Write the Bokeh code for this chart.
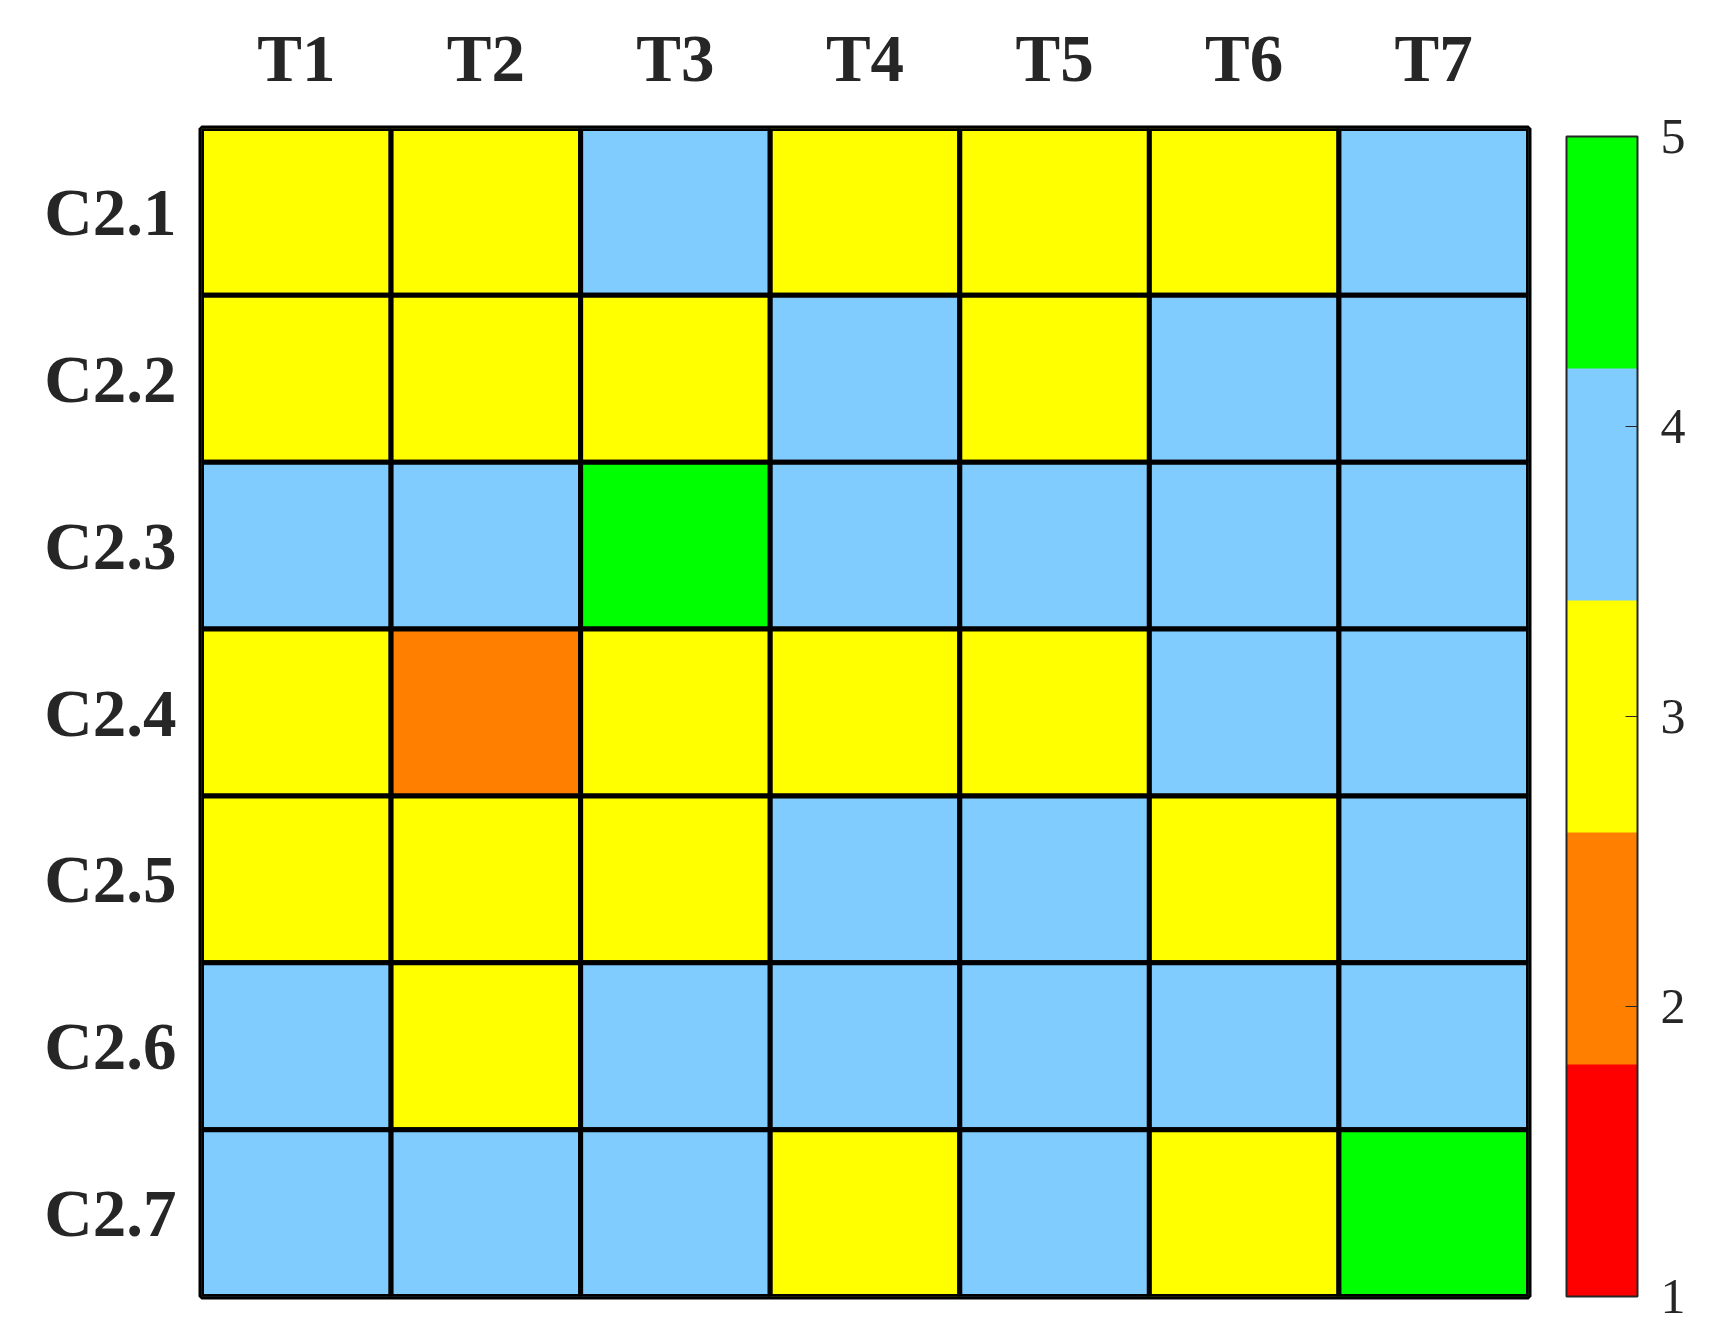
from bokeh.plotting import figure
from bokeh.models import (ColumnDataSource, LinearColorMapper, ColorBar, FixedTicker)
from bokeh.embed import file_html
from bokeh.resources import INLINE

columns = ["T1", "T2", "T3", "T4", "T5", "T6", "T7"]
rows = ["C2.1", "C2.2", "C2.3", "C2.4", "C2.5", "C2.6", "C2.7"]
values = [
    [3, 3, 4, 3, 3, 3, 4],
    [3, 3, 3, 4, 3, 4, 4],
    [4, 4, 5, 4, 4, 4, 4],
    [3, 2, 3, 3, 3, 4, 4],
    [3, 3, 3, 4, 4, 3, 4],
    [4, 3, 4, 4, 4, 4, 4],
    [4, 4, 4, 3, 4, 3, 5],
]
palette = ["#FF0000", "#FF8000", "#FFFF00", "#80CCFF", "#00FF00"]
cbar_ticks = [1, 2, 3, 4, 5]

xs, ys, vs = [], [], []
for r, row in zip(rows, values):
    for c, v in zip(columns, row):
        xs.append(c)
        ys.append(r)
        vs.append(v)
src = ColumnDataSource(dict(x=xs, y=ys, v=vs))

mapper = LinearColorMapper(palette=palette, low=1, high=5)

FONT = "Liberation Serif"
TXT = "#262626"

p = figure(width=1690, height=1334, x_range=columns, y_range=list(reversed(rows)),
           x_axis_location="above", output_backend="svg", toolbar_location=None,
           min_border_left=201, min_border_top=128, min_border_bottom=38,
           min_border_right=162)
p.rect(x="x", y="y", width=1, height=1, source=src,
       fill_color={"field": "v", "transform": mapper},
       line_color="black", line_width=5)

p.grid.visible = False
p.outline_line_color = "black"
p.outline_line_width = 6
for ax in (p.xaxis, p.yaxis):
    ax.axis_line_color = None
    ax.major_tick_line_color = None
    ax.minor_tick_line_color = None
    ax.major_label_text_font = FONT
    ax.major_label_text_font_style = "bold"
    ax.major_label_text_font_size = "67px"
    ax.major_label_text_color = TXT
p.xaxis.major_label_standoff = 28
p.yaxis.major_label_standoff = 19

cb = ColorBar(color_mapper=mapper, ticker=FixedTicker(ticks=cbar_ticks),
              width=71, height=1160, padding=0, margin=0,
              location=(38, 0),
              bar_line_color="#262626", bar_line_width=2,
              major_tick_line_color="#262626", major_tick_in=12, major_tick_out=0,
              major_label_text_font=FONT, major_label_text_font_size="50px",
              major_label_text_color=TXT, label_standoff=23)
p.add_layout(cb, "right")

open("out.html", "w").write(file_html(p, INLINE))
